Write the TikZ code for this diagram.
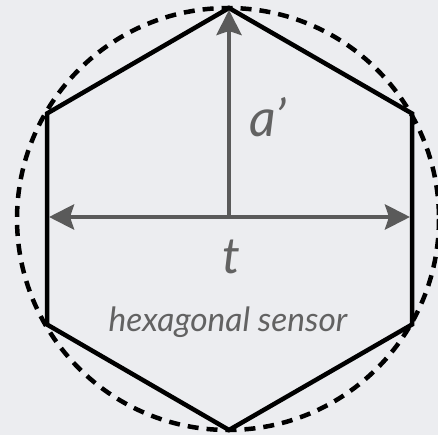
\documentclass[tikz,border=0pt]{standalone}
\usepackage{fontspec}
\setmainfont{Lato}
\usetikzlibrary{arrows.meta}
\definecolor{bg}{HTML}{ECEDF0}
\definecolor{arrowgray}{HTML}{5A5A5A}
\definecolor{textgray}{HTML}{626262}
\tikzset{
  hexline/.style={draw=black, line width=4.5pt, line join=miter},
  circdash/.style={draw=black, line width=4.5pt, dash pattern=on 11pt off 8pt},
  dimarrow/.style={draw=arrowgray, line width=4.5pt, -{Stealth[length=25pt,width=25pt,inset=4pt]}},
  dimarrowboth/.style={draw=arrowgray, line width=4.5pt, {Stealth[length=25pt,width=25pt,inset=4pt]}-{Stealth[length=25pt,width=25pt,inset=4pt]}},
  lbl/.style={text=textgray, font=\itshape, inner sep=0pt}
}
\begin{document}
\begin{tikzpicture}[x=1pt,y=-1pt]
\fill[bg] (0,0) rectangle (438,435);
\useasboundingbox (0,0) rectangle (438,435);
\coordinate (c) at (229,219);
\coordinate (vt) at (229,8);
\coordinate (vul) at (47,113.5);
\coordinate (vll) at (47,324.5);
\coordinate (vb) at (229,430);
\coordinate (vlr) at (412,324.5);
\coordinate (vur) at (412,113.5);
\coordinate (al) at (49,217);
\coordinate (ar) at (410,217);
\coordinate (atop) at (229,10);
\coordinate (abase) at (229,219);
\draw[circdash] (228,219) circle (211);
\draw[hexline] (vt) -- (vul) -- (vll) -- (vb) -- (vlr) -- (vur) -- cycle;
\draw[dimarrow] (abase) -- (atop);
\draw[dimarrowboth] (al) -- (ar);
\node[lbl, font=\itshape\fontsize{52}{56}\selectfont] (la) at (268,117) {a’};
\node[lbl, font=\itshape\fontsize{50}{54}\selectfont] (lt) at (231,257) {t};
\node[lbl, font=\itshape\fontsize{33.5}{36}\selectfont] (ls) at (228,322) {hexagonal sensor};
\end{tikzpicture}
\end{document}
